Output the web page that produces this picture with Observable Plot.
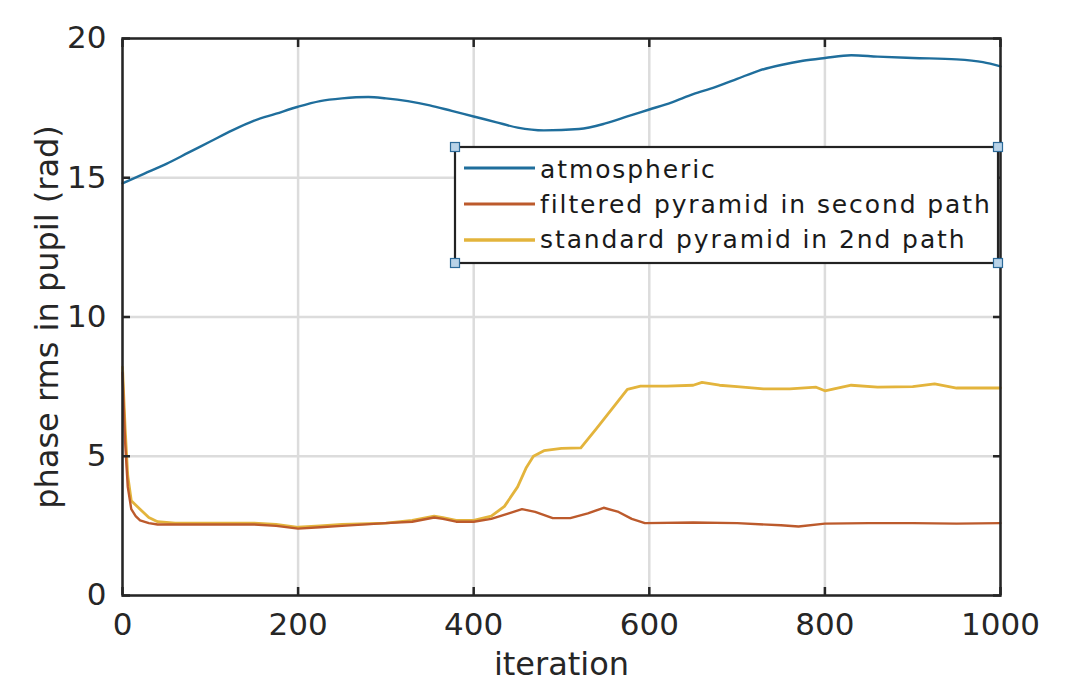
<!DOCTYPE html>
<html>
<head>
<meta charset="utf-8">
<script src="https://cdn.jsdelivr.net/npm/d3@7"></script>
<script src="https://cdn.jsdelivr.net/npm/@observablehq/plot@0.6"></script>
<style>
  html, body { margin: 0; padding: 0; background: #fff; }
  #wrap { position: relative; width: 1076px; height: 685px; }
  #wrap > svg.overlay { position: absolute; left: 0; top: 0; }
</style>
</head>
<body>
<div id="wrap"></div>
<script>
const xTicks = [0, 200, 400, 600, 800, 1000];
const yTicks = [0, 5, 10, 15, 20];
const seriesNames = ["atmospheric", "filtered pyramid in second path", "standard pyramid in 2nd path"];
const seriesColors = ["#1f6e9c", "#bc5a2c", "#e3b43c"];
const xLabel = "iteration";
const yLabel = "phase rms in pupil (rad)";

const atmX = [0, 25, 50, 75, 100, 125, 150, 175, 200, 225, 250, 280, 300, 325, 350, 375, 400, 425, 450, 480, 520, 550, 575, 600, 625, 650, 675, 700, 725, 750, 775, 800, 830, 860, 900, 950, 980, 1000];
const atmY = [14.8, 15.15, 15.5, 15.9, 16.3, 16.7, 17.05, 17.3, 17.55, 17.75, 17.85, 17.9, 17.85, 17.75, 17.6, 17.4, 17.2, 17.0, 16.8, 16.7, 16.75, 16.95, 17.2, 17.45, 17.7, 18.0, 18.25, 18.55, 18.85, 19.05, 19.2, 19.3, 19.4, 19.35, 19.3, 19.25, 19.15, 19.0];

const filtX = [0, 3, 6, 10, 15, 20, 30, 40, 60, 100, 150, 175, 200, 225, 250, 300, 330, 355, 365, 380, 400, 420, 440, 455, 470, 490, 510, 530, 548, 565, 580, 595, 650, 700, 750, 770, 800, 850, 900, 950, 1000];
const filtY = [8.0, 5.5, 3.9, 3.1, 2.85, 2.7, 2.6, 2.55, 2.55, 2.55, 2.55, 2.5, 2.4, 2.45, 2.5, 2.6, 2.65, 2.8, 2.75, 2.65, 2.65, 2.75, 2.95, 3.1, 3.0, 2.78, 2.78, 2.95, 3.15, 3.0, 2.75, 2.6, 2.62, 2.6, 2.52, 2.48, 2.58, 2.6, 2.6, 2.58, 2.6];

const stdX = [0, 3, 6, 10, 15, 20, 30, 40, 60, 100, 150, 175, 200, 225, 250, 300, 330, 355, 365, 380, 400, 420, 435, 450, 460, 468, 480, 500, 522, 540, 560, 575, 590, 620, 650, 660, 680, 700, 730, 760, 790, 800, 830, 860, 900, 925, 950, 1000];
const stdY = [8.2, 6.0, 4.3, 3.4, 3.25, 3.1, 2.8, 2.65, 2.6, 2.6, 2.6, 2.55, 2.45, 2.5, 2.55, 2.6, 2.7, 2.85, 2.8, 2.7, 2.7, 2.85, 3.2, 3.9, 4.6, 5.0, 5.2, 5.28, 5.3, 6.0, 6.8, 7.4, 7.52, 7.52, 7.55, 7.65, 7.55, 7.5, 7.42, 7.42, 7.48, 7.35, 7.55, 7.48, 7.5, 7.6, 7.45, 7.45];

const toRows = (xs, ys, s) => xs.map((x, i) => ({x, y: ys[i], s}));
const data = [
  ...toRows(atmX, atmY, seriesNames[0]),
  ...toRows(filtX, filtY, seriesNames[1]),
  ...toRows(stdX, stdY, seriesNames[2])
];

const axisColor = "#262626";
const font = "DejaVu Sans, sans-serif";
const chart = Plot.plot({
  width: 1076,
  height: 685,
  marginLeft: 122,
  marginRight: 76,
  marginTop: 38,
  marginBottom: 90,
  style: {fontFamily: font, fontSize: "31px", color: axisColor, background: "#fff", overflow: "visible"},
  x: {domain: [0, 1000], label: null},
  y: {domain: [0, 20], label: null},
  marks: [
    Plot.gridX(xTicks, {stroke: "#dcdcdc", strokeOpacity: 1, strokeWidth: 2.5}),
    Plot.gridY(yTicks, {stroke: "#dcdcdc", strokeOpacity: 1, strokeWidth: 2.5}),
    Plot.line(data.filter(d => d.s === seriesNames[2]), {x: "x", y: "y", stroke: seriesColors[2], strokeWidth: 2.8}),
    Plot.line(data.filter(d => d.s === seriesNames[1]), {x: "x", y: "y", stroke: seriesColors[1], strokeWidth: 2.4}),
    Plot.line(data.filter(d => d.s === seriesNames[0]), {x: "x", y: "y", stroke: seriesColors[0], strokeWidth: 2.4, curve: "monotone-x"}),
    Plot.frame({stroke: axisColor, strokeWidth: 2.5}),
    Plot.axisX(xTicks, {anchor: "bottom", tickSize: 0, tickPadding: 17, label: null, fontSize: 31, tickFormat: d => String(d)}),
    Plot.axisX(xTicks, {anchor: "bottom", tickSize: -8, tickFormat: () => "", label: null, strokeWidth: 2.5, stroke: axisColor}),
    Plot.axisX(xTicks, {anchor: "top", tickSize: -8, tickFormat: () => "", label: null, strokeWidth: 2.5, stroke: axisColor}),
    Plot.axisY(yTicks, {anchor: "left", tickSize: 0, tickPadding: 16, label: null, fontSize: 31, tickFormat: d => String(d)}),
    Plot.axisY(yTicks, {anchor: "left", tickSize: -8, tickFormat: () => "", label: null, strokeWidth: 2.5, stroke: axisColor}),
    Plot.axisY(yTicks, {anchor: "right", tickSize: -8, tickFormat: () => "", label: null, strokeWidth: 2.5, stroke: axisColor}),
    Plot.text([xLabel], {frameAnchor: "bottom", dy: 69, fontSize: 32, fill: axisColor, textAnchor: "middle", lineAnchor: "middle", letterSpacing: "1px"}),
    Plot.text([yLabel], {frameAnchor: "left", dx: -75, rotate: -90, fontSize: 32, fill: axisColor, textAnchor: "middle", lineAnchor: "middle", letterSpacing: "1.1px"})
  ]
});

const wrap = document.getElementById("wrap");
wrap.appendChild(chart);

// legend overlay (drawn in an SVG layered on top of the plot)
const ov = d3.select(wrap).append("svg")
  .attr("class", "overlay")
  .attr("width", 1076).attr("height", 685)
  .style("font-family", font);
const box = {x0: 455, y0: 147, x1: 998, y1: 263};
ov.append("rect")
  .attr("x", box.x0).attr("y", box.y0)
  .attr("width", box.x1 - box.x0).attr("height", box.y1 - box.y0)
  .attr("fill", "#fff").attr("stroke", "#222").attr("stroke-width", 2.2);
const baselines = [178, 213, 248];
const lineYs = [168, 204, 240];
seriesNames.forEach((name, i) => {
  ov.append("line")
    .attr("x1", 464).attr("x2", 535)
    .attr("y1", lineYs[i]).attr("y2", lineYs[i])
    .attr("stroke", seriesColors[i]).attr("stroke-width", i === 2 ? 3.6 : 2.8);
  ov.append("text")
    .attr("x", 540).attr("y", baselines[i])
    .attr("font-size", 25).attr("letter-spacing", "1.9px")
    .attr("fill", "#1a1a1a")
    .text(name);
});
[[box.x0, box.y0], [box.x1, box.y0], [box.x0, box.y1], [box.x1, box.y1]].forEach(([x, y]) => {
  ov.append("rect")
    .attr("x", x - 4.5).attr("y", y - 4.5).attr("width", 9).attr("height", 9)
    .attr("fill", "#b9d3e8").attr("stroke", "#2c6a99").attr("stroke-width", 1.2);
});
</script>
</body>
</html>
